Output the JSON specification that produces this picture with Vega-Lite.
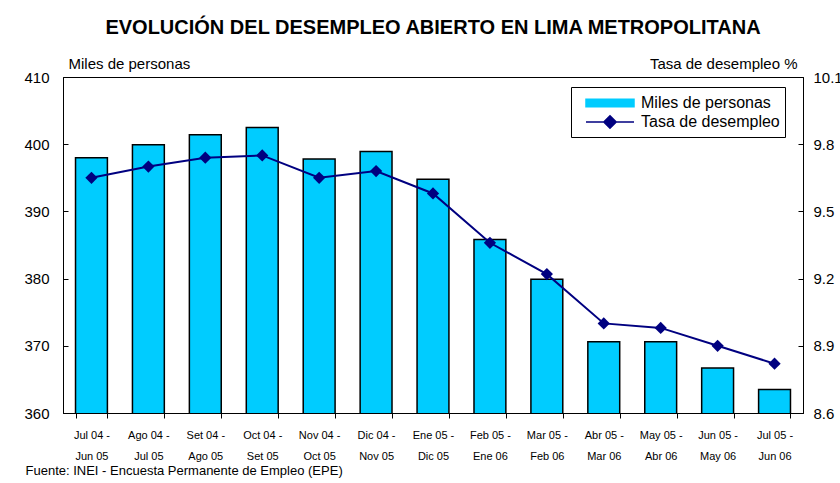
{
  "$schema": "https://vega.github.io/schema/vega-lite/v6.json",
  "autosize": {"type": "none"},
  "width": 740,
  "height": 336,
  "padding": {"left": 63, "top": 77, "right": 37, "bottom": 70},
  "background": "white",
  "config": {
    "font": "Liberation Sans",
    "view": {"stroke": "black", "strokeWidth": 1},
    "axis": {"grid": false, "domainColor": "black", "tickColor": "black", "labelColor": "black", "titleColor": "black", "labelFont": "Liberation Sans", "titleFont": "Liberation Sans"},
    "legend": {
      "title": null,
      "orient": "none",
      "legendX": 508,
      "legendY": 10,
      "strokeColor": "black",
      "fillColor": "white",
      "padding": 5,
      "cornerRadius": 0,
      "symbolSize": 400,
      "symbolOffset": 23,
      "labelOffset": 20,
      "rowPadding": 0,
      "labelFontSize": 16,
      "labelColor": "black",
      "labelFont": "Liberation Sans",
      "symbolStrokeWidth": 1.5,
      "symbolOpacity": 1
    }
  },
  "title": {
    "text": "EVOLUCIÓN DEL DESEMPLEO ABIERTO EN LIMA METROPOLITANA",
    "anchor": "middle",
    "fontSize": 20,
    "fontWeight": "bold",
    "font": "Liberation Sans",
    "color": "black",
    "offset": 18
  },
  "data": {
    "values": [
      {"periodo": "Jul 04 - Jun 05", "miles": 398.0, "tasa": 9.65},
      {"periodo": "Ago 04 - Jul 05", "miles": 399.9, "tasa": 9.70},
      {"periodo": "Set 04 - Ago 05", "miles": 401.4, "tasa": 9.74},
      {"periodo": "Oct 04 - Set 05", "miles": 402.5, "tasa": 9.75},
      {"periodo": "Nov 04 - Oct 05", "miles": 397.8, "tasa": 9.65},
      {"periodo": "Dic 04 - Nov 05", "miles": 398.9, "tasa": 9.68},
      {"periodo": "Ene 05 - Dic 05", "miles": 394.8, "tasa": 9.58},
      {"periodo": "Feb 05 - Ene 06", "miles": 385.8, "tasa": 9.36},
      {"periodo": "Mar 05 - Feb 06", "miles": 379.9, "tasa": 9.22},
      {"periodo": "Abr 05 - Mar 06", "miles": 370.6, "tasa": 9.00},
      {"periodo": "May 05 - Abr 06", "miles": 370.6, "tasa": 8.98},
      {"periodo": "Jun 05 - May 06", "miles": 366.7, "tasa": 8.90},
      {"periodo": "Jul 05 - Jun 06", "miles": 363.5, "tasa": 8.82}
    ]
  },
  "encoding": {
    "x": {
      "field": "periodo",
      "type": "nominal",
      "sort": null,
      "scale": {"paddingInner": 0.44, "paddingOuter": 0.22},
      "axis": {
        "title": "Fuente: INEI - Encuesta Permanente de Empleo (EPE)",
        "titleFontSize": 13,
        "titleFontWeight": "normal",
        "titleAnchor": "start",
        "titleAlign": "left",
        "titleBaseline": "middle",
        "titleX": -38,
        "titleY": 57,
        "labelAngle": 0,
        "labelFontSize": 11,
        "labelLineHeight": 21,
        "labelPadding": 11,
        "tickBand": "extent",
        "tickSize": 5,
        "labelExpr": "[slice(datum.label, 0, 8), slice(datum.label, 9)]"
      }
    }
  },
  "layer": [
    {
      "mark": {"type": "bar", "stroke": "black", "strokeWidth": 1.5, "clip": true},
      "encoding": {
        "y": {
          "field": "miles",
          "type": "quantitative",
          "scale": {"domain": [360, 410], "nice": false, "zero": false},
          "axis": {
            "orient": "left",
            "values": [360, 370, 380, 390, 400, 410],
            "labelFontSize": 15,
            "tickSize": -5,
            "labelPadding": 19,
            "title": "Miles de personas",
            "titleAngle": 0,
            "titleFontSize": 15,
            "titleFontWeight": "normal",
            "titleAlign": "left",
            "titleBaseline": "middle",
            "titleX": 5,
            "titleY": -14
          }
        },
        "color": {
          "datum": "Miles de personas",
          "type": "nominal",
          "scale": {"domain": ["Miles de personas", "Tasa de desempleo"], "range": ["#00CCFF", "#000080"]},
          "legend": {
            "symbolType": {"expr": "datum.value === 'Miles de personas' ? 'M-2.4,-0.38L2.4,-0.38L2.4,0.38L-2.4,0.38Z' : 'M-2.4,0L2.4,0M0,-0.62L0.62,0L0,0.62L-0.62,0Z'"},
            "symbolStrokeColor": {"expr": "datum.value === 'Miles de personas' ? '#000000' : '#000080'"}
          }
        }
      }
    },
    {
      "mark": {"type": "line", "strokeWidth": 2, "point": {"filled": true, "shape": "diamond", "size": 150, "opacity": 1}},
      "encoding": {
        "y": {
          "field": "tasa",
          "type": "quantitative",
          "scale": {"domain": [8.6, 10.1], "nice": false, "zero": false},
          "axis": {
            "orient": "right",
            "values": [8.6, 8.9, 9.2, 9.5, 9.8, 10.1],
            "format": ".1f",
            "labelFontSize": 15,
            "tickSize": -5,
            "labelPadding": 15,
            "title": "Tasa de desempleo %",
            "titleAngle": 0,
            "titleFontSize": 15,
            "titleFontWeight": "normal",
            "titleAlign": "right",
            "titleBaseline": "middle",
            "titleX": -6,
            "titleY": -14
          }
        },
        "color": {"datum": "Tasa de desempleo", "type": "nominal"}
      }
    }
  ],
  "resolve": {"scale": {"y": "independent"}}
}
